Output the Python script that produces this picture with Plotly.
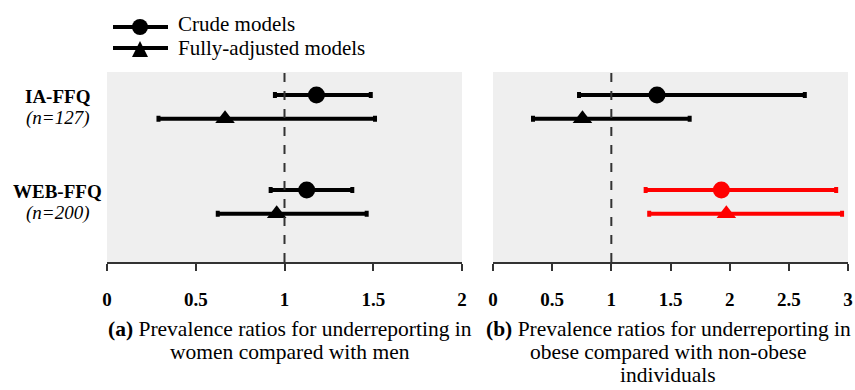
import plotly.graph_objects as go

# ---- data ----
rows = ["IA-FFQ crude", "IA-FFQ adjusted", "WEB-FFQ crude", "WEB-FFQ adjusted"]
row_pos = [5, 4, 1, 0]
row_symbols = ["circle", "triangle-up", "circle", "triangle-up"]

# panel (a): women vs men
a_pr = [1.18, 0.665, 1.125, 0.956]
a_lo = [0.946, 0.29, 0.922, 0.624]
a_hi = [1.486, 1.51, 1.382, 1.463]

# panel (b): obese vs non-obese
b_pr = [1.386, 0.756, 1.93, 1.972]
b_lo = [0.727, 0.338, 1.29, 1.32]
b_hi = [2.635, 1.662, 2.90, 2.95]
b_colors = ["#000000", "#000000", "#ff0000", "#ff0000"]

group_labels = ["IA-FFQ", "WEB-FFQ"]
group_n = ["(n=127)", "(n=200)"]

a_ticks = [0, 0.5, 1, 1.5, 2]
b_ticks = [0, 0.5, 1, 1.5, 2, 2.5, 3]

caption_a = ["<b>(a)</b> Prevalence ratios for underreporting in", "women compared with men"]
caption_b = ["<b>(b)</b> Prevalence ratios for underreporting in", "obese compared with non-obese", "individuals"]

legend_labels = ["Crude models", "Fully-adjusted models"]

W, H = 855, 390
FONT = "Liberation Serif"


def px(x):
    return x / W


def py(y):
    return 1 - y / H


fig = go.Figure()

for i in range(len(rows)):
    fig.add_trace(go.Scatter(
        x=[a_pr[i]], y=[row_pos[i]], xaxis="x", yaxis="y", mode="markers",
        marker=dict(symbol=row_symbols[i], size=17, color="#000000"),
        error_x=dict(type="data", symmetric=False,
                     array=[a_hi[i] - a_pr[i]], arrayminus=[a_pr[i] - a_lo[i]],
                     color="#000000", thickness=4, width=3),
        showlegend=False, hoverinfo="x"))
    fig.add_trace(go.Scatter(
        x=[b_pr[i]], y=[row_pos[i]], xaxis="x2", yaxis="y2", mode="markers",
        marker=dict(symbol=row_symbols[i], size=17, color=b_colors[i]),
        error_x=dict(type="data", symmetric=False,
                     array=[b_hi[i] - b_pr[i]], arrayminus=[b_pr[i] - b_lo[i]],
                     color=b_colors[i], thickness=4, width=3),
        showlegend=False, hoverinfo="x"))

ydom = [py(262), py(72)]
yrange = [-2.03, 5.97]
axis_common = dict(showgrid=False, zeroline=False, showline=True, linecolor="#333333",
                   linewidth=1.5, ticks="outside", ticklen=7, tickwidth=1.5,
                   tickcolor="#333333", ticklabelstandoff=12,
                   tickfont=dict(family=FONT, size=19, color="#000000", weight="bold"))

fig.update_layout(
    width=W, height=H,
    margin=dict(l=0, r=0, t=0, b=0, autoexpand=False),
    paper_bgcolor="white", plot_bgcolor="#efefef",
    showlegend=False,
    xaxis=dict(domain=[px(107), px(462)], range=[0, 2], tickvals=a_ticks,
               ticktext=[f"{t:g}" for t in a_ticks], anchor="y", **axis_common),
    yaxis=dict(domain=ydom, range=yrange, visible=False, anchor="x"),
    xaxis2=dict(domain=[px(493), px(848)], range=[0, 3], tickvals=b_ticks,
                ticktext=[f"{t:g}" for t in b_ticks], anchor="y2", **axis_common),
    yaxis2=dict(domain=ydom, range=yrange, visible=False, anchor="x2"),
)

# reference line at 1
for xr, yr in [("x", "y domain"), ("x2", "y2 domain")]:
    fig.add_shape(type="line", xref=xr, yref=yr, x0=1, x1=1, y0=0, y1=1,
                  line=dict(color="#333333", width=2, dash="dash"))

# group labels
for k, (lab, n) in enumerate(zip(group_labels, group_n)):
    fig.add_annotation(xref="paper", yref="y", x=px(57), y=row_pos[2 * k] - 0.05,
                       xanchor="center", yanchor="middle",
                       text=f"<b>{lab}</b>", showarrow=False,
                       font=dict(family=FONT, size=19, color="#000000"))
    fig.add_annotation(xref="paper", yref="y", x=px(57), y=row_pos[2 * k + 1] + 0.05,
                       xanchor="center", yanchor="middle",
                       text=f"<i>{n}</i>", showarrow=False,
                       font=dict(family=FONT, size=19, color="#000000"))

# captions
cap_font = dict(family=FONT, size=21.5, color="#000000")
for j, line in enumerate(caption_a):
    fig.add_annotation(xref="paper", yref="paper", x=px(290), y=py(329 + 23 * j),
                       xanchor="center", yanchor="middle",
                       text=line, showarrow=False, font=cap_font)
for j, line in enumerate(caption_b):
    fig.add_annotation(xref="paper", yref="paper", x=px(668), y=py(329 + 23 * j),
                       xanchor="center", yanchor="middle",
                       text=line, showarrow=False, font=cap_font)

# legend (drawn manually)
leg_y = [27, 48]
leg_text_y = [24, 48]
for j, lab in enumerate(legend_labels):
    fig.add_shape(type="line", xref="paper", yref="paper", x0=px(113), x1=px(168),
                  y0=py(leg_y[j]), y1=py(leg_y[j]), line=dict(color="#000000", width=4))
    fig.add_annotation(xref="paper", yref="paper", x=px(176), y=py(leg_text_y[j]),
                       xanchor="left", yanchor="middle", text=lab, showarrow=False,
                       font=dict(family=FONT, size=21, color="#000000"))
r = 8
fig.add_shape(type="circle", xref="paper", yref="paper",
              x0=px(140 - r), x1=px(140 + r), y0=py(leg_y[0] - r), y1=py(leg_y[0] + r),
              fillcolor="#000000", line=dict(color="#000000", width=0))
tx, ty = 140, leg_y[1]
fig.add_shape(type="path", xref="paper", yref="paper",
              path=f"M {px(tx - 8)} {py(ty + 9)} L {px(tx + 8)} {py(ty + 9)} L {px(tx)} {py(ty - 7)} Z",
              fillcolor="#000000", line=dict(color="#000000", width=0))

fig.write_html("out.html", config={"displayModeBar": False},
               post_script="document.body.style.margin='0';document.body.style.overflow='hidden';")
